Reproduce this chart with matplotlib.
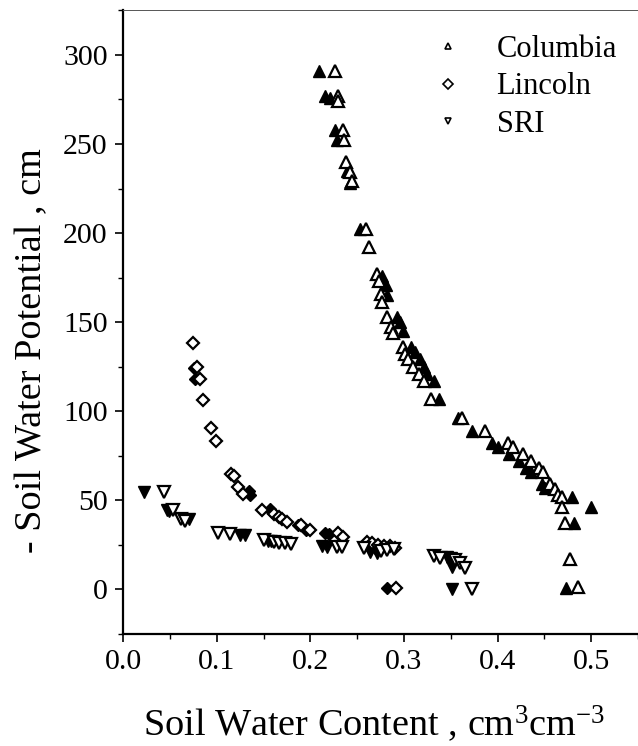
import numpy as np
import matplotlib

matplotlib.use("Agg")

import matplotlib.pyplot as plt
from matplotlib.lines import Line2D
from matplotlib.ticker import MultipleLocator, FormatStrFormatter

plt.rcParams['font.family'] = ['Liberation Serif', 'DejaVu Serif']
plt.rcParams['mathtext.fontset'] = 'custom'
plt.rcParams['mathtext.rm'] = 'Liberation Serif'
plt.rcParams['mathtext.it'] = 'Liberation Serif:italic'

# Columbia (triangles up), open and filled sets
col_open_x = [0.226, 0.229, 0.230, 0.235, 0.236, 0.238, 0.242, 0.245, 0.259, 0.263,
              0.271, 0.273, 0.275, 0.277, 0.282, 0.286, 0.288, 0.299, 0.301, 0.304,
              0.310, 0.316, 0.321, 0.329, 0.362, 0.387, 0.411, 0.417, 0.427, 0.436,
              0.444, 0.449, 0.456, 0.461, 0.465, 0.469, 0.469, 0.472, 0.477, 0.486]
col_open_y = [291, 277, 274, 258, 252, 240, 234, 229, 202, 192,
              177, 173, 166, 161, 153, 147, 144, 136, 132, 129,
              125, 121, 117, 107, 96, 89, 82, 80, 76, 72,
              68, 66, 59, 56, 53, 52, 46, 37, 17, 1]
col_fill_x = [0.209, 0.216, 0.221, 0.226, 0.228, 0.239, 0.242, 0.253, 0.277, 0.281,
              0.282, 0.293, 0.296, 0.299, 0.308, 0.312, 0.317, 0.321, 0.325, 0.332,
              0.337, 0.358, 0.373, 0.394, 0.400, 0.412, 0.423, 0.430, 0.436, 0.447,
              0.451, 0.479, 0.500, 0.482, 0.473]
col_fill_y = [291, 277, 276, 258, 252, 235, 228, 202, 176, 171,
              165, 153, 150, 145, 136, 133, 129, 125, 121, 117,
              107, 96, 89, 82, 80, 76, 72, 68, 66, 59,
              57, 52, 46, 37, 0.5]

# Lincoln (diamonds)
lin_open_x = [0.075, 0.079, 0.082, 0.085, 0.094, 0.099, 0.115, 0.118, 0.123, 0.128,
              0.148, 0.161, 0.166, 0.170, 0.175, 0.190, 0.200, 0.230, 0.235, 0.260,
              0.266, 0.272, 0.279, 0.285, 0.290, 0.292]
lin_open_y = [138, 125, 118, 106, 90.5, 83, 64.5, 63.5, 57.5, 53.5,
              44.5, 42.5, 40.5, 39.5, 38, 36, 33.5, 31.5, 29.5, 26.5,
              26, 25, 24, 24, 23, 0.5]
lin_fill_x = [0.0755, 0.077, 0.134, 0.136, 0.157, 0.159, 0.187, 0.195, 0.216, 0.220,
              0.264, 0.271, 0.282]
lin_fill_y = [124, 118, 55, 53, 45, 43.5, 36.2, 33, 31.5, 31,
              23, 22, 0.5]

# SRI (triangles down)
sri_open_x = [0.0435, 0.053, 0.062, 0.066, 0.101, 0.114, 0.150, 0.161, 0.167, 0.173,
              0.179, 0.228, 0.234, 0.257, 0.275, 0.282, 0.289, 0.332, 0.338, 0.355,
              0.360, 0.365, 0.373]
sri_open_y = [54.5, 44.5, 39.5, 38.5, 31.3, 30.8, 27.8, 26.6, 26, 25.8,
              25.5, 23.8, 23.5, 23, 21.5, 22, 22.5, 18.5, 17.5, 16.5,
              14.8, 12, 0.3]
sri_fill_x = [0.0225, 0.047, 0.049, 0.0705, 0.125, 0.130, 0.155, 0.158, 0.212, 0.218,
              0.264, 0.271, 0.346, 0.350, 0.351, 0.351]
sri_fill_y = [54.5, 44.5, 44, 39.2, 30.3, 30.3, 27, 27, 24, 23.8,
              21, 20.5, 18.3, 17.3, 12.5, 0.3]

labels = ["Columbia", "Lincoln", "SRI"]

fig = plt.figure(figsize=(6.38, 7.46), dpi=100)
ax = fig.add_axes([0.193, 0.1505, 0.807, 0.8355])

ms = {'^': 8.3, 'D': 6.2, 'v': 8.3}
for m, fx, fy in [('^', col_fill_x, col_fill_y), ('D', lin_fill_x, lin_fill_y),
                  ('v', sri_fill_x, sri_fill_y)]:
    ax.plot(fx, fy, ls='none', marker=m, ms=ms[m], mfc='black', mec='black', mew=1.0)
for m, ox, oy in [('^', col_open_x, col_open_y), ('D', lin_open_x, lin_open_y),
                  ('v', sri_open_x, sri_open_y)]:
    ax.plot(ox, oy, ls='none', marker=m, ms=ms[m], mfc='white', mec='black', mew=1.6)

ax.set_xlim(0, 0.55)
ax.set_ylim(-25, 325)
ax.xaxis.set_major_locator(MultipleLocator(0.1))
ax.xaxis.set_minor_locator(MultipleLocator(0.05))
ax.xaxis.set_major_formatter(FormatStrFormatter('%.1f'))
ax.yaxis.set_major_locator(MultipleLocator(50))
ax.yaxis.set_minor_locator(MultipleLocator(25))
ax.tick_params(which='major', direction='out', length=6, width=1.2, labelsize=21.5, pad=5)
ax.tick_params(which='minor', direction='out', length=3.5, width=1.0)
ax.tick_params(top=False, right=False)

ax.spines['left'].set_linewidth(1.6)
ax.spines['bottom'].set_linewidth(1.6)
ax.spines['top'].set_linewidth(0.7)
ax.spines['top'].set_color('#555555')
ax.spines['right'].set_visible(False)

ax.set_xlabel("Soil Water Content , cm$^3$cm$^{-3}$", fontsize=27.5, va='baseline')
ax.xaxis.set_label_coords(0.488, -0.163)
ax.set_ylabel("- Soil Water Potential , cm", fontsize=27.5, va='baseline')
ax.yaxis.set_label_coords(-0.159, 0.4545)

handles = [Line2D([], [], ls='none', marker=m, ms=5, mfc='white', mec='black', mew=1.2)
           for m in ['^', 'D', 'v']]
ax.legend(handles, labels, loc='upper left', bbox_to_anchor=(0.6006, 0.9607),
          frameon=False, fontsize=22, handlelength=1.0, handletextpad=1.1,
          labelspacing=0.28, borderpad=0, borderaxespad=0)

fig.savefig("out.png", dpi=100)
